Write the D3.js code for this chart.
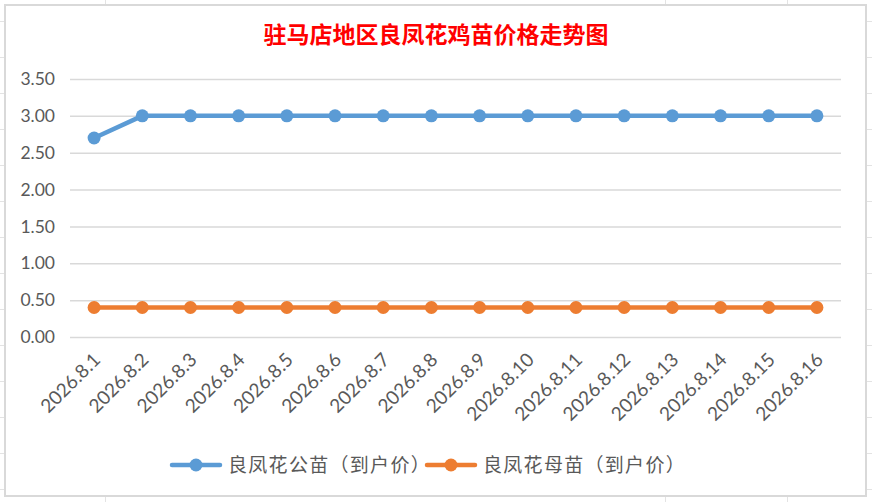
<!DOCTYPE html>
<html>
<head>
<meta charset="utf-8">
<script src="https://cdn.jsdelivr.net/npm/d3@7"></script>
<style>
  body { margin: 0; background: #fff; }
  svg { display: block; }
</style>
</head>
<body>
<div id="chart"></div>
<script>
// chart data
var dates = ["2026.8.1", "2026.8.2", "2026.8.3", "2026.8.4", "2026.8.5", "2026.8.6", "2026.8.7", "2026.8.8",
    "2026.8.9", "2026.8.10", "2026.8.11", "2026.8.12", "2026.8.13", "2026.8.14", "2026.8.15", "2026.8.16"];
var malePrice = [2.7, 3, 3, 3, 3, 3, 3, 3, 3, 3, 3, 3, 3, 3, 3, 3];
var femalePrice = [0.4, 0.4, 0.4, 0.4, 0.4, 0.4, 0.4, 0.4, 0.4, 0.4, 0.4, 0.4, 0.4, 0.4, 0.4, 0.4];
var seriesNames = ["良凤花公苗（到户价）", "良凤花母苗（到户价）"];
var yTicks = [0, 0.5, 1, 1.5, 2, 2.5, 3, 3.5];
var title = "驻马店地区良凤花鸡苗价格走势图";

var W = 872, H = 502;
var colors = ["#5b9bd5", "#ed7d31"];
var textColor = "#595959";
var latin = "Lato, 'Open Sans', sans-serif";
var cjk = "'Noto Sans CJK SC', sans-serif";

var svg = d3.select("#chart").append("svg")
    .attr("width", W)
    .attr("height", H);

// spreadsheet cells peeking out behind the chart
var sheet = svg.append("g").attr("stroke", "#e3e3e3").attr("stroke-width", 1);
[105, 665, 787].forEach(function (x) {
    sheet.append("line").attr("x1", x + 0.5).attr("x2", x + 0.5).attr("y1", 0).attr("y2", H);
});
d3.range(21, H, 36).forEach(function (y) {
    sheet.append("line").attr("x1", 0).attr("x2", W).attr("y1", y + 0.5).attr("y2", y + 0.5);
});

// chart frame
svg.append("rect")
    .attr("x", 5).attr("y", 5)
    .attr("width", 861).attr("height", 491)
    .attr("fill", "#fff")
    .attr("stroke", "#d9d9d9")
    .attr("stroke-width", 2);

var margin = { left: 70, right: 31, top: 79, bottom: 165 };
var plotW = W - margin.left - margin.right,
    plotH = 337 - margin.top;

var g = svg.append("g")
    .attr("transform", "translate(" + margin.left + "," + margin.top + ")");

var x = d3.scalePoint()
    .domain(dates)
    .range([0, plotW])
    .padding(0.5);

var y = d3.scaleLinear()
    .domain([0, 3.5])
    .range([plotH, 0]);

// title
svg.append("text")
    .attr("x", W / 2)
    .attr("y", 43)
    .attr("text-anchor", "middle")
    .attr("fill", "#ff0000")
    .attr("font-family", "'Noto Sans CJK SC', serif")
    .attr("font-weight", "bold")
    .attr("font-size", 23)
    .text(title);

// y axis: gridlines + labels
var yAxis = d3.axisLeft(y)
    .tickValues(yTicks)
    .tickSize(-plotW)
    .tickPadding(15)
    .tickFormat(d3.format(".2f"));

var yg = g.append("g").call(yAxis);
yg.select(".domain").remove();
yg.selectAll(".tick line").attr("stroke", "#d9d9d9").attr("stroke-width", 1.5);
yg.selectAll(".tick text")
    .attr("fill", textColor)
    .attr("font-family", latin)
    .attr("font-size", 17.5);

// x axis labels, rotated
var xAxis = d3.axisBottom(x).tickSize(0).tickPadding(0);
var xg = g.append("g")
    .attr("transform", "translate(0," + plotH + ")")
    .call(xAxis);
xg.select(".domain").remove();
xg.selectAll(".tick text")
    .attr("fill", textColor)
    .attr("font-family", latin)
    .attr("font-size", 19)
    .attr("text-anchor", "end")
    .attr("dy", 0)
    .attr("transform", "translate(7,24) rotate(-45)");

// series
var line = d3.line()
    .x(function (d, i) { return x(dates[i]); })
    .y(function (d) { return y(d); });

[malePrice, femalePrice].forEach(function (vals, k) {
    g.append("path")
        .datum(vals)
        .attr("fill", "none")
        .attr("stroke", colors[k])
        .attr("stroke-width", 4.5)
        .attr("stroke-linejoin", "round")
        .attr("d", line);

    g.selectAll(".dot" + k)
        .data(vals)
        .enter()
        .append("circle")
        .attr("class", "dot" + k)
        .attr("cx", function (d, i) { return x(dates[i]); })
        .attr("cy", function (d) { return y(d); })
        .attr("r", 6.5)
        .attr("fill", colors[k]);
});

// legend
var legendX = [172, 427];
seriesNames.forEach(function (name, k) {
    var lg = svg.append("g").attr("transform", "translate(" + legendX[k] + ",465)");
    lg.append("line")
        .attr("x1", 0).attr("x2", 48)
        .attr("stroke", colors[k])
        .attr("stroke-width", 4.5)
        .attr("stroke-linecap", "round");
    lg.append("circle").attr("cx", 24).attr("r", 6.5).attr("fill", colors[k]);
    lg.append("text")
        .attr("x", 56)
        .attr("y", 7)
        .attr("fill", textColor)
        .attr("font-family", cjk)
        .attr("font-size", 19)
        .attr("letter-spacing", 1.3)
        .text(name);
});
</script>
</body>
</html>
